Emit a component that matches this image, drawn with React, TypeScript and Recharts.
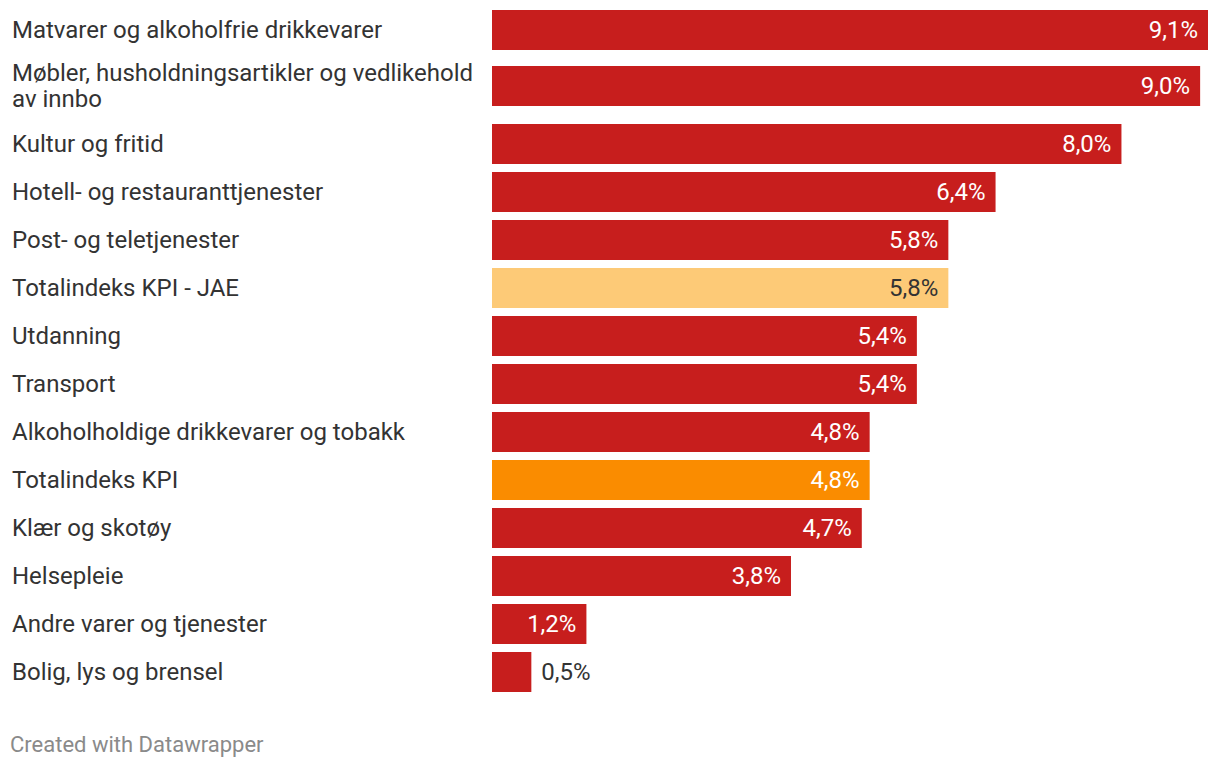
import React from 'react';
import { BarChart, Bar, XAxis, YAxis, Cell, LabelList } from 'recharts';

const categories = [
  'Matvarer og alkoholfrie drikkevarer',
  'Møbler, husholdningsartikler og vedlikehold av innbo',
  'Kultur og fritid',
  'Hotell- og restauranttjenester',
  'Post- og teletjenester',
  'Totalindeks KPI - JAE',
  'Utdanning',
  'Transport',
  'Alkoholholdige drikkevarer og tobakk',
  'Totalindeks KPI',
  'Klær og skotøy',
  'Helsepleie',
  'Andre varer og tjenester',
  'Bolig, lys og brensel',
];
const values = [9.1, 9.0, 8.0, 6.4, 5.8, 5.8, 5.4, 5.4, 4.8, 4.8, 4.7, 3.8, 1.2, 0.5];
const kinds = ['group', 'group', 'group', 'group', 'group', 'jae', 'group', 'group', 'group', 'kpi', 'group', 'group', 'group', 'group'];

const COLORS: Record<string, string> = { group: '#c71e1d', jae: '#fdca77', kpi: '#fa8c00' };
const INSIDE_TEXT: Record<string, string> = { group: '#ffffff', jae: '#333333', kpi: '#ffffff' };

const rows = categories.map((name, i) => ({ name, value: values[i], kind: kinds[i] }));
const maxValue = Math.max(...values);
const FONT = 'Roboto, "Noto Sans", sans-serif';
const FS = 24;

function wrap(text: string, maxChars: number): string[] {
  const words = text.split(' ');
  const lines: string[] = [];
  let cur = '';
  for (const w of words) {
    const next = cur ? cur + ' ' + w : w;
    if (next.length > maxChars && cur) {
      lines.push(cur);
      cur = w;
    } else cur = next;
  }
  if (cur) lines.push(cur);
  return lines;
}

const CategoryTick = (props: any) => {
  const { y, payload } = props;
  const lines = wrap(String(payload.value), 44);
  const lh = 26;
  const startY = y - ((lines.length - 1) * lh) / 2;
  return (
    <text x={12} y={startY} fill="#333333" fontSize={FS} fontFamily={FONT} textAnchor="start" dominantBaseline="central">
      {lines.map((l, i) => (
        <tspan key={i} x={12} y={startY + i * lh} dominantBaseline="central">{l}</tspan>
      ))}
    </text>
  );
};

const makeValueLabel = (data: typeof rows) => (props: any) => {
  const { x, y, width, height, index, value } = props;
  const row = data[index];
  const txt = value.toFixed(1).replace('.', ',') + '%';
  const inside = width > 75;
  const cy = y + height / 2;
  if (inside) {
    return (
      <text x={x + width - 10} y={cy} fill={INSIDE_TEXT[row.kind]} fontSize={FS} fontFamily={FONT} textAnchor="end" dominantBaseline="central">
        {txt}
      </text>
    );
  }
  return (
    <text x={x + width + 10} y={cy} fill="#333333" fontSize={FS} fontFamily={FONT} textAnchor="start" dominantBaseline="central">
      {txt}
    </text>
  );
};

function Chart({ data, height, top }: { data: typeof rows; height: number; top: number }) {
  return (
    <div style={{ position: 'absolute', left: 0, top }}>
      <BarChart width={1220} height={height} data={data} layout="vertical" margin={{ top: 0, right: 12, bottom: 0, left: 0 }} barSize={40}>
        <XAxis type="number" domain={[0, maxValue]} hide />
        <YAxis type="category" dataKey="name" width={492} axisLine={false} tickLine={false} tick={<CategoryTick />} interval={0} />
        <Bar dataKey="value" isAnimationActive={false}>
          {data.map((r, i) => (
            <Cell key={i} fill={COLORS[r.kind]} />
          ))}
          <LabelList dataKey="value" content={makeValueLabel(data)} />
        </Bar>
      </BarChart>
    </div>
  );
}

export default function App() {
  return (
    <div style={{ position: 'relative', width: 1220, height: 768, margin: -8, background: '#ffffff', overflow: 'hidden' }}>
      <Chart data={rows.slice(0, 2)} height={112} top={2} />
      <Chart data={rows.slice(2)} height={576} top={120} />
      <div style={{ position: 'absolute', left: 10, top: 731, fontFamily: FONT, fontSize: 22, color: '#8a8a8a', lineHeight: '28px' }}>
        Created with Datawrapper
      </div>
    </div>
  );
}
